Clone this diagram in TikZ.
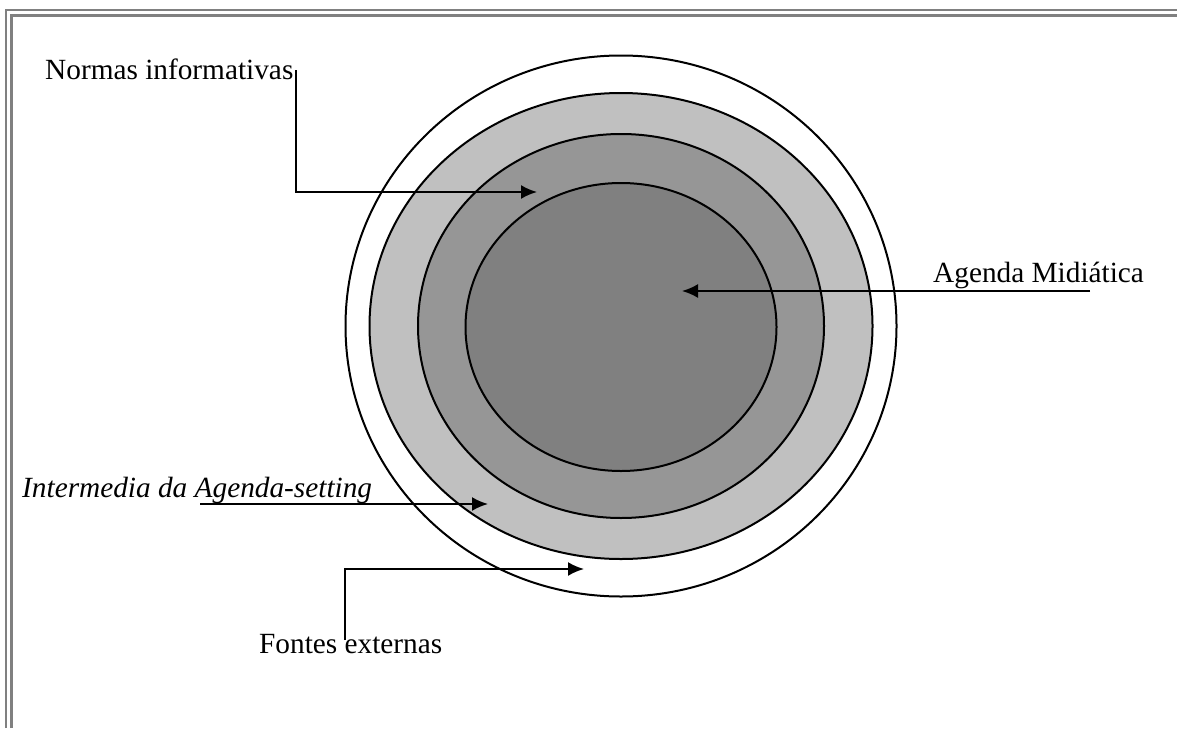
\documentclass[tikz,border=0pt]{standalone}
\usepackage{fontspec}
\setmainfont{Liberation Serif}
\usepackage{tikz}
\usetikzlibrary{arrows.meta,positioning,shapes,calc}

\begin{document}
\begin{tikzpicture}[x = 1pt, y = -1pt,
    ring/.style = {ellipse, draw, line width = 2pt, inner sep = 0pt},
    lbl/.style = {font = \fontsize{29.3}{34}\selectfont, inner sep = 0pt},
    arr/.style = {line width = 2pt, -{Latex[length=16pt, width=14pt]}},
    frame/.style = {line width = 2.6pt, gray}]
    \useasboundingbox (0,0) rectangle (1177,728);
    % page frame (left and top only)
    \draw[frame] (6,728) -- (6,10) -- (1177,10);
    \draw[frame] (11.5,728) -- (11.5,15.5) -- (1177,15.5);
    %%%%%%%%%%
    \node[ring, fill = white, minimum width = 551pt, minimum height = 541pt] (fontes) at (621,326) {};
    \node[ring, fill = {rgb,255:red,192;green,192;blue,192}, minimum width = 503pt, minimum height = 466pt] (intermedia) at (621,326) {};
    \node[ring, fill = {rgb,255:red,150;green,150;blue,150}, minimum width = 406pt, minimum height = 384pt] (normas) at (621,326) {};
    \node[ring, fill = {rgb,255:red,128;green,128;blue,128}, minimum width = 311pt, minimum height = 288pt] (agenda) at (621,327) {};
    %%%%%%%%%%
    \node[lbl, anchor = base west] (normasLbl) at (45,79) {Normas informativas};
    \node[lbl, anchor = base west] (agendaLbl) at (933,282) {Agenda Midiática};
    \node[lbl, anchor = base west] (interLbl) at (22,497) {\textit{Intermedia da Agenda-setting}};
    \node[lbl, anchor = base west] (fontesLbl) at (259,653) {Fontes externas};
    %%%%%%%%%%
    \coordinate (normasStart) at (296,70);
    \coordinate (normasTip) at (537,192);
    \coordinate (agendaStart) at (1090,291);
    \coordinate (agendaTip) at (682,291);
    \coordinate (interStart) at (200,504);
    \coordinate (interTip) at (488,504);
    \coordinate (fontesStart) at (345,640);
    \coordinate (fontesTip) at (584,569);
    %%%%%%%%%%
    \draw[arr] (normasStart) |- (normasTip);
    \draw[arr] (agendaStart) -- (agendaTip);
    \draw[arr] (interStart) -- (interTip);
    \draw[arr] (fontesStart) |- (fontesTip);
\end{tikzpicture}
\end{document}
